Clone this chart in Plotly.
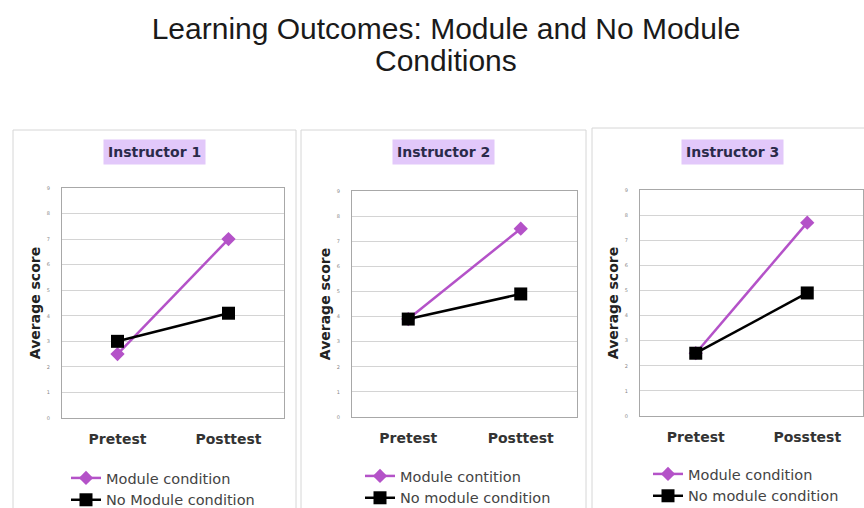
import plotly.graph_objects as go

categories = ["Pretest", "Posttest"]
tick_labels = [["Pretest", "Posttest"], ["Pretest", "Posttest"], ["Pretest", "Posstest"]]
panel_titles = ["Instructor 1", "Instructor 2", "Instructor 3"]

module_scores = [[2.5, 7.0], [3.9, 7.5], [2.5, 7.7]]
no_module_scores = [[3.0, 4.1], [3.9, 4.9], [2.5, 4.9]]

module_names = ["Module condition", "Module contition", "Module condition"]
no_module_names = ["No Module condition", "No module condition", "No module condition"]

W, H = 864, 508
# plot areas in pixels (left, right, top, bottom)
plot_px = [(62, 284, 188, 418), (352, 577, 191, 417), (640, 863, 190, 416)]
panel_px = [(13, 296, 130), (301, 586, 130), (592, 872, 128)]
legend_px = [(66, 462), (360, 460), (648, 458)]

MOD_COLOR = "#B452C8"
BLACK = "#000000"

fig = go.Figure()

def px_x(v):
    return v / W

def px_y(v):
    return (H - v) / H

for i in range(3):
    ax = "" if i == 0 else str(i + 1)
    xref = "x" + ax
    yref = "y" + ax
    leg = "legend" if i == 0 else "legend" + str(i + 1)
    fig.add_trace(go.Scatter(
        x=categories, y=module_scores[i], mode="lines+markers",
        name=module_names[i], xaxis=xref, yaxis=yref, legend=leg,
        line=dict(color=MOD_COLOR, width=2.5),
        marker=dict(symbol="diamond", size=11, color=MOD_COLOR),
    ))
    fig.add_trace(go.Scatter(
        x=categories, y=no_module_scores[i], mode="lines+markers",
        name=no_module_names[i], xaxis=xref, yaxis=yref, legend=leg,
        line=dict(color=BLACK, width=2.5),
        marker=dict(symbol="square", size=13, color=BLACK),
    ))

    l, r, t, b = plot_px[i]
    fig.layout["xaxis" + ax] = dict(
        domain=[px_x(l), px_x(r)], anchor=yref, type="category",
        range=[-0.5, 1.5], tickvals=categories, ticktext=tick_labels[i],
        showgrid=False, showline=True, mirror=True, linecolor="#A8A8A8", linewidth=1,
        ticks="", ticklabelstandoff=8, automargin=False,
        tickfont=dict(family="DejaVu Sans", size=14, color="#333333", weight="bold"),
        zeroline=False, fixedrange=True,
    )
    fig.layout["yaxis" + ax] = dict(
        domain=[px_y(b), px_y(t)], anchor=xref, range=[0, 9],
        dtick=1, showgrid=True, gridcolor="#D4D4D4", gridwidth=1,
        showline=True, mirror=True, linecolor="#A8A8A8", linewidth=1,
        ticks="", ticklabelstandoff=10, automargin=False,
        tickfont=dict(family="DejaVu Sans", size=5, color="#888888"),
        title=dict(text="<b>Average score</b>", standoff=2,
                   font=dict(family="DejaVu Sans", size=14, color="#222222")),
        zeroline=False, fixedrange=True,
    )

    pl, pr, pt = panel_px[i]
    fig.add_shape(type="rect", xref="paper", yref="paper",
                  x0=px_x(pl), x1=px_x(pr), y0=-0.05, y1=px_y(pt),
                  line=dict(color="#D6D6D6", width=1), fillcolor="rgba(0,0,0,0)",
                  layer="below")
    fig.add_annotation(
        text="<b>" + panel_titles[i] + "</b>", xref="paper", yref="paper",
        x=px_x((pl + pr) / 2), y=px_y(152), xanchor="center", yanchor="middle",
        showarrow=False, bgcolor="#E2C8FA", borderpad=4,
        font=dict(family="DejaVu Sans", size=14, color="#2A2A4A"),
    )

    lx, ly = legend_px[i]
    fig.layout[leg] = dict(
        x=px_x(lx), y=px_y(ly), xanchor="left", yanchor="top",
        xref="paper", yref="paper", bgcolor="rgba(0,0,0,0)",
        font=dict(family="DejaVu Sans", size=14.5, color="#444444"),
        itemwidth=30, tracegroupgap=0, traceorder="normal",
    )

fig.update_layout(
    width=W, height=H,
    margin=dict(l=0, r=0, t=0, b=0, autoexpand=False),
    paper_bgcolor="white", plot_bgcolor="white",
    showlegend=True,
    title=dict(text="Learning Outcomes: Module and No Module",
               x=446 / W, xanchor="center", y=px_y(28), yanchor="middle",
               font=dict(family="Liberation Sans", size=30, color="#1A1A1A")),
)
fig.add_annotation(
    text="Conditions", xref="paper", yref="paper",
    x=446 / W, y=px_y(60), xanchor="center", yanchor="middle", showarrow=False,
    font=dict(family="Liberation Sans", size=30, color="#1A1A1A"),
)

fig.write_html(
    "out.html",
    config={"displayModeBar": False},
    post_script="document.body.style.margin='0';document.body.style.overflow='hidden';",
)
